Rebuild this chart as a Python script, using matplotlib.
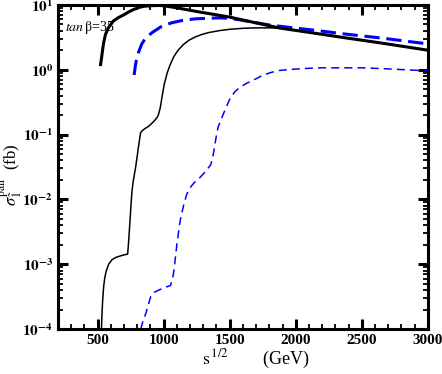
import matplotlib
matplotlib.use('Agg')
import matplotlib.pyplot as plt
import numpy as np
from matplotlib.ticker import MultipleLocator, LogLocator, FixedLocator, NullFormatter


plt.rcParams['font.family'] = ['Liberation Serif', 'DejaVu Serif']
plt.rcParams['mathtext.fontset'] = 'stix'

# thick solid black
x_a = [523, 530, 538, 546, 560, 584, 622, 660, 698, 736, 774, 812, 850, 900, 960,
       1000, 1100, 1250, 1496, 1876, 2126, 2400, 2636, 3000]
y_a = [1.2, 1.5, 2.0, 2.6, 3.5, 4.5, 5.7, 6.4, 7.0, 7.8, 8.5, 9.1, 9.5, 9.7, 9.8,
       9.7, 9.0, 7.9, 6.5, 4.4, 3.7, 3.05, 2.6, 2.0]

# thick dashed blue
x_b = [777, 785, 795, 812, 835, 860, 910, 980, 1062, 1150, 1245, 1420, 1500, 1572,
       1700, 1800, 1950, 2126, 2400, 2636, 3000]
y_b = [0.83, 1.1, 1.45, 1.9, 2.5, 3.0, 3.7, 4.6, 5.3, 5.8, 6.1, 6.3, 6.2, 5.9,
       5.3, 4.9, 4.5, 4.1, 3.5, 3.1, 2.5]

# thin solid black
x_c = [530, 533, 538, 546, 555, 565, 584, 610, 640, 680, 728, 735, 742, 750, 760,
       770, 789, 810, 825, 835, 850, 888, 920, 948, 960, 975, 988, 1005, 1027,
       1050, 1078, 1110, 1150, 1192, 1240, 1290, 1344, 1420, 1500, 1600, 1700,
       1800, 1876, 2126, 2400, 2636, 3000]
y_c = [1e-4, 1.6e-4, 2.6e-4, 4.5e-4, 6.2e-4, 7.8e-4, 1.0e-3, 1.18e-3, 1.28e-3,
       1.36e-3, 1.44e-3, 2.2e-3, 3.6e-3, 6.5e-3, 1.3e-2, 1.9e-2, 3.2e-2, 6.5e-2,
       0.105, 0.113, 0.12, 0.135, 0.155, 0.18, 0.2, 0.26, 0.38, 0.6, 0.89, 1.2,
       1.6, 2.0, 2.45, 2.85, 3.2, 3.5, 3.75, 4.0, 4.2, 4.35, 4.42, 4.42, 4.4,
       3.7, 3.05, 2.6, 2.0]

# thin dashed blue
x_d = [827, 835, 845, 865, 885, 903, 930, 964, 1010, 1052, 1068, 1078, 1090, 1100,
       1108, 1120, 1131, 1154, 1175, 1199, 1230, 1268, 1310, 1356, 1370, 1382,
       1395, 1412, 1440, 1465, 1503, 1540, 1579, 1630, 1678, 1740, 1807, 1870,
       1936, 2050, 2187, 2500, 2696, 3000]
y_d = [1e-4, 1.15e-4, 1.35e-4, 1.74e-4, 2.4e-4, 3.2e-4, 3.7e-4, 4.0e-4, 4.4e-4,
       4.7e-4, 6e-4, 8e-4, 1.3e-3, 2e-3, 2.6e-3, 4e-3, 5.4e-3, 8.5e-3, 1.2e-2,
       1.5e-2, 1.8e-2, 2.1e-2, 2.6e-2, 3.4e-2, 4.3e-2, 5.8e-2, 8.5e-2, 0.13, 0.18,
       0.24, 0.36, 0.46, 0.54, 0.62, 0.69, 0.8, 0.9, 0.97, 1.0, 1.04, 1.07, 1.07,
       1.03, 0.96]

fig = plt.figure(figsize=(4.42, 3.74), dpi=100)
ax = fig.add_axes([0.131, 0.120, 0.837, 0.867])

ax.plot(x_c, y_c, color='black', lw=1.1)
ax.plot(x_d, y_d, color='blue', lw=1.1, dashes=(5.3, 3.3))
ax.plot(x_b, y_b, color='blue', lw=2.2, dashes=(5, 2.2))
ax.plot(x_a, y_a, color='black', lw=2.2)

ax.set_yscale('log')
ax.set_xlim(200, 3000)
ax.set_ylim(1e-4, 1e1)

ax.xaxis.set_major_locator(FixedLocator([500, 1000, 1500, 2000, 2500, 3000]))
ax.xaxis.set_minor_locator(MultipleLocator(100))
ax.yaxis.set_minor_locator(LogLocator(base=10, subs=np.arange(2, 10), numticks=20))
ax.yaxis.set_minor_formatter(NullFormatter())
ax.set_yticks([1e-4, 1e-3, 1e-2, 1e-1, 1e0, 1e1])
ax.set_yticklabels([r'$\mathbf{10^{%d}}$' % e for e in range(-4, 2)])
ax.set_xticklabels(['500', '1000', '1500', '2000', '2500', '3000'], fontweight='bold')

ax.tick_params(which='both', direction='in', top=True, right=True, labelsize=11)
ax.tick_params(which='major', length=7.5, width=2.2)
ax.tick_params(which='minor', length=3.5, width=1.3)
for s in ax.spines.values():
    s.set_linewidth(2.2)

ax.set_xlabel(r'$\mathrm{s}^{\,1/2}\qquad\ \ $(GeV)', fontsize=13, labelpad=1, x=0.535)
ax.set_ylabel(r'$\sigma^{\mathrm{pair}}_{\tilde{1}}\ \ $(fb)', fontsize=12,
              labelpad=-1.5, y=0.475)

ax.text(0.019, 0.92, r'$\mathit{tan}\,\mathrm{\beta}$=35', transform=ax.transAxes,
        fontsize=10)

fig.savefig('out.png', dpi=100)
